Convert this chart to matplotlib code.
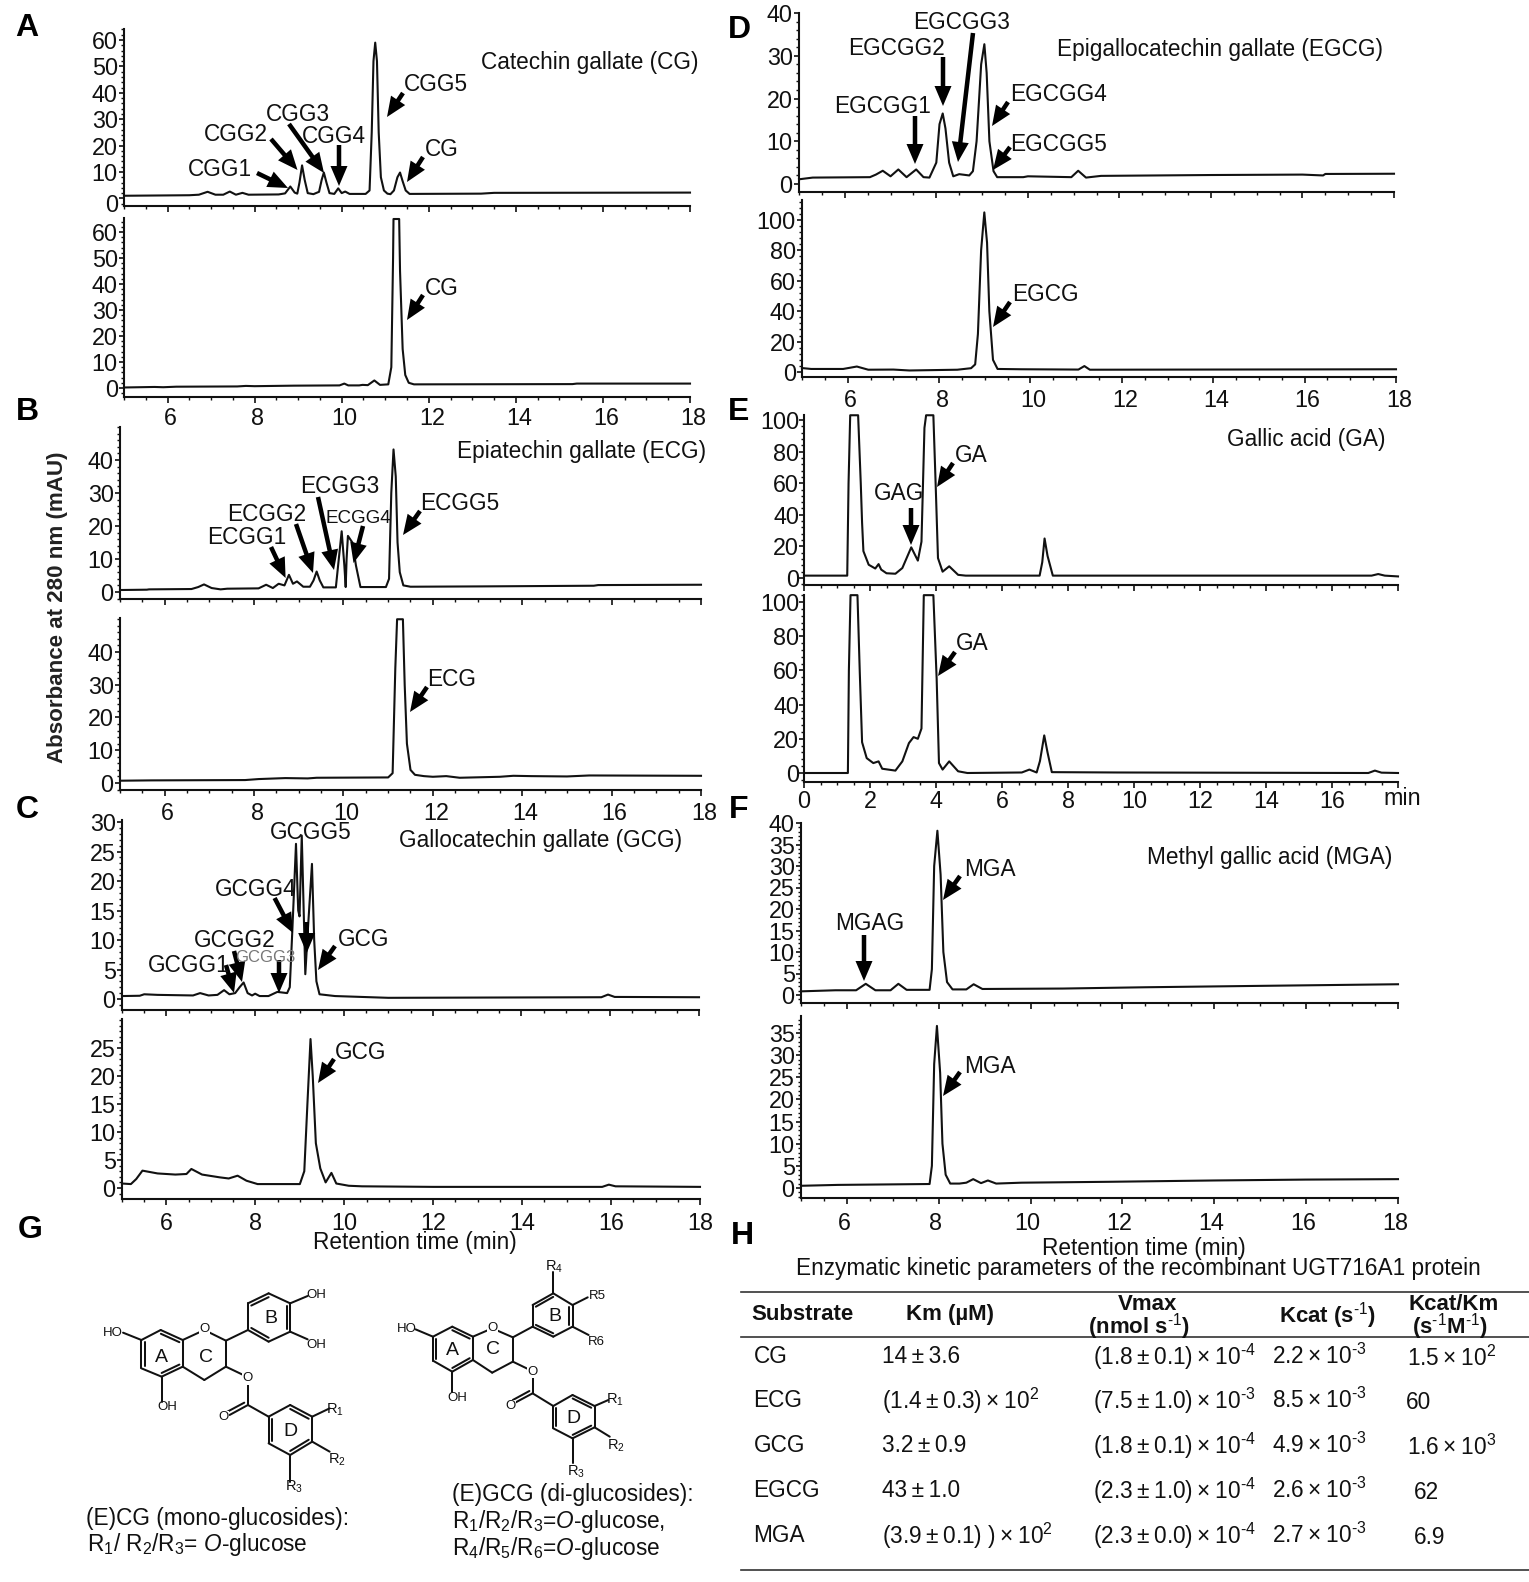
import matplotlib
matplotlib.use("Agg")
import matplotlib.pyplot as plt
from matplotlib.patches import FancyArrow
from matplotlib.ticker import MultipleLocator
from matplotlib.transforms import ScaledTranslation

plt.rcParams['font.family'] = ['Liberation Sans', 'DejaVu Sans']
plt.rcParams['mathtext.fontset'] = 'custom'
plt.rcParams['mathtext.rm'] = 'Liberation Sans'
plt.rcParams['mathtext.it'] = 'Liberation Sans:italic'
plt.rcParams['mathtext.bf'] = 'Liberation Sans:bold'

W, H = 1529, 1582

# ---------- chromatogram data (retention time, absorbance) ----------
A1_t = [5,6.5,6.72,6.92,7.1,7.28,7.43,7.57,7.72,7.86,8.55,8.7,8.82,8.92,8.98,9.03,9.09,9.15,9.22,9.35,9.48,9.54,9.59,9.65,9.72,9.83,9.92,10,10.08,10.18,10.55,10.64,10.69,10.73,10.77,10.81,10.85,10.9,10.97,11.05,11.12,11.2,11.28,11.34,11.4,11.47,11.56,13.2,13.5,18]
A1_y = [1.0,1.2,1.4,2.5,1.4,1.4,2.6,1.4,2.1,1.4,1.5,1.9,4.5,2.2,1.8,6,12.5,7,2,1.6,2.5,7,9.8,6,2,1.7,3.8,2,2.6,1.7,1.7,3,25,52,59,52,25,8,3,1.8,1.6,3,8,9.8,6.5,3,1.7,1.8,2.1,2.2]
A2_t = [5,5.7,5.9,6.2,7.6,7.8,8,8.9,9.95,10.06,10.15,10.4,10.48,10.6,10.75,10.88,11.07,11.14,11.18,11.19,11.32,11.34,11.4,11.46,11.54,11.66,15.3,15.4,18]
A2_y = [0.2,0.4,0.3,0.5,0.6,0.8,0.7,0.9,1.0,1.7,1.0,1.0,1.2,1.1,2.9,1.2,1.4,8,50,65,65,45,15,5,2,1.4,1.5,1.7,1.7]
B1_t = [5,5.6,5.65,6.6,6.75,6.88,7.05,7.25,7.4,8.1,8.27,8.42,8.55,8.68,8.78,8.87,8.96,9.1,9.25,9.33,9.4,9.47,9.55,9.83,9.88,9.96,10.02,10.05,10.07,10.1,10.2,10.28,10.38,10.95,11.02,11.07,11.12,11.17,11.21,11.26,11.34,11.5,13.1,15.6,15.7,18]
B1_y = [0.6,0.7,0.8,0.9,1.5,2.3,1.2,0.8,1,1.1,2.2,1.2,2.5,2,5.2,2.5,3.2,1.6,1.6,3.5,6.2,3.5,1.4,1.4,8,18.4,8,1.5,10,17,15,8,1.5,1.5,4,30,43.2,35,15,6,2,1.6,1.7,1.9,2.1,2.2]
B2_t = [5,5.7,7.8,8.1,8.7,9.2,9.4,11,11.1,11.16,11.2,11.33,11.37,11.42,11.5,11.6,11.8,12.0,12.3,12.6,13.5,13.8,14.2,15,15.5,18]
B2_y = [0.7,0.8,0.9,1.2,1.5,1.4,1.6,1.7,3,35,50,50,30,12,4,2.5,2.1,1.9,2.1,1.6,1.9,2.2,2.1,2,2.3,2.2]
C1_t = [5,5.4,5.5,5.8,6.6,6.76,6.95,7.15,7.3,7.42,7.55,7.65,7.74,7.83,7.93,8.0,8.1,8.3,8.5,8.72,8.78,8.84,8.92,8.97,9.0,9.05,9.09,9.13,9.19,9.28,9.33,9.38,9.45,9.8,11,15.8,15.95,16.1,18]
C1_y = [0.5,0.55,0.8,0.7,0.6,1,0.6,0.7,1.5,0.8,1,2,2.8,1,0.6,0.9,0.5,0.5,1.2,1,2,12,26.3,15,14,27.7,16,4.2,12,22.9,10,3,0.8,0.5,0.2,0.3,0.75,0.35,0.3]
C2_t = [5,5.2,5.32,5.46,5.8,6.2,6.45,6.56,6.8,7.2,7.4,7.6,7.8,8.05,9.0,9.1,9.17,9.24,9.29,9.36,9.46,9.58,9.71,9.82,10.1,10.4,12,15.8,15.95,16.1,18]
C2_y = [0.8,0.7,1.6,3.1,2.6,2.4,2.5,3.4,2.4,1.9,1.7,2.2,1.3,0.7,0.7,3,15,26.6,20,8,3.5,1,2.7,0.8,0.4,0.3,0.2,0.2,0.6,0.3,0.2]
D1_t = [5,5.3,6.55,6.68,6.83,7,7.17,7.35,7.56,7.72,7.85,8.0,8.07,8.14,8.2,8.28,8.37,8.5,8.72,8.8,8.88,8.98,9.05,9.1,9.16,9.25,9.33,9.9,10,10.95,11.1,11.27,11.6,14,16,16.45,16.5,18]
D1_y = [1.1,1.5,1.6,2.2,3.1,1.8,3.4,1.6,3.4,1.6,1.5,5,14,16.5,13,5,1.8,2.3,2,3,10,28,32.7,26,10,3,1.6,1.6,1.8,1.6,3.1,1.5,1.9,2.1,2.2,2,2.35,2.4]
D2_t = [5,5.2,5.9,6.2,6.45,7,7.35,8.4,8.7,8.79,8.85,8.92,8.99,9.05,9.1,9.18,9.28,9.8,11.05,11.18,11.3,16,18]
D2_y = [2.6,2,2,3.6,1.5,1.6,1.0,1.5,2.5,5,25,80,105,85,40,8,2,1.8,1.6,3.9,1.5,1.7,1.8]
E1_t = [0,1.31,1.35,1.4,1.64,1.72,1.76,1.8,1.96,2.16,2.26,2.34,2.5,2.77,2.98,3.25,3.45,3.56,3.65,3.7,3.92,3.99,4.06,4.2,4.4,4.67,4.9,7.14,7.22,7.29,7.38,7.54,13.5,17.2,17.4,17.6,18]
E1_y = [1.5,1.5,60,103,103,60,35,17,8.4,6,8.8,5.3,3,2.7,6.3,19.4,11,23,95,103,103,59,12.6,4,7.4,2,1.5,1.5,10,25,14,1.5,1.5,1.5,2.5,1.5,1]
E2_t = [0,1.33,1.36,1.41,1.62,1.69,1.76,1.9,2.1,2.26,2.37,2.77,2.98,3.18,3.32,3.45,3.56,3.63,3.92,4.02,4.09,4.2,4.4,4.67,4.95,6.6,6.83,7.05,7.15,7.28,7.38,7.51,9.5,17.1,17.3,17.5,18]
E2_y = [0,0,60,104,104,59,18,8.7,5.8,6.8,2.5,1.4,6.8,17.5,21,20,26,104,104,55,5.8,2,6.8,1,0,0.3,2,0.3,7,22,12,0.5,0.3,0,1.4,0.2,0]
F1_t = [5,5.75,6.2,6.41,6.62,6.95,7.12,7.3,7.8,7.85,7.9,7.97,8.04,8.1,8.18,8.3,8.6,8.76,8.95,10.7,12.5,14.8,18]
F1_y = [0.85,1.1,1.1,2.6,1.1,1.1,2.6,1.2,1.2,6,30,38.2,28,10,3,1.3,1.3,2.5,1.4,1.5,1.8,2.1,2.5]
F2_t = [5,5.8,7.8,7.85,7.9,7.96,8.03,8.08,8.15,8.25,8.45,8.6,8.75,8.92,9.07,9.25,9.8,11.7,14,16,18]
F2_y = [0.5,0.7,0.9,5,28,36.6,26,10,3,1,1,1.2,2,1.1,1.7,1,1.2,1.4,1.7,1.9,2.0]

X_TICKS = [6, 8, 10, 12, 14, 16, 18]
X_TICKS_E = [0, 2, 4, 6, 8, 10, 12, 14, 16]

# table contents
PM = '\u2009±\u2009'
TM = '\u2009×\u2009'
SUBSTRATES = ['CG', 'ECG', 'GCG', 'EGCG', 'MGA']
KM = [f'14{PM}3.6', f'(1.4{PM}0.3){TM}10$^{{2}}$', f'3.2{PM}0.9', f'43{PM}1.0', f'(3.9{PM}0.1) ){TM}10$^{{2}}$']
VMAX = [f'(1.8{PM}0.1){TM}10$^{{\\text{{-4}}}}$', f'(7.5{PM}1.0){TM}10$^{{\\text{{-3}}}}$',
        f'(1.8{PM}0.1){TM}10$^{{\\text{{-4}}}}$', f'(2.3{PM}1.0){TM}10$^{{\\text{{-4}}}}$',
        f'(2.3{PM}0.0){TM}10$^{{\\text{{-4}}}}$']
KCAT = [f'{v}{TM}10$^{{\\text{{-3}}}}$' for v in ('2.2', '8.5', '4.9', '2.6', '2.7')]
KCATKM = [f'1.5{TM}10$^{{2}}$', '60', f'1.6{TM}10$^{{3}}$', '62', '6.9']

FS = 16.3
TICK_FS = 16.8
fig = plt.figure(figsize=(W / 100, H / 100), dpi=100, facecolor='white')


def panel(box, xlim, t, y, p1, p2, yticks, xticks=None, labels_x=True, xpad=3.5, xshift=0, ypad=1.0):
    left, right, top, bottom = box
    ax = fig.add_axes([left / W, 1 - bottom / H, (right - left) / W, (bottom - top) / H])
    ax.patch.set_visible(False)
    scale = (p1[1] - p2[1]) / (p2[0] - p1[0])
    ax.set_ylim(p1[0] - (bottom - p1[1]) / scale, p1[0] + (p1[1] - top) / scale)
    ax.set_xlim(*xlim)
    ax.plot(t, y, color='#111111', lw=1.5, clip_on=False, solid_joinstyle='round')
    for s in ('top', 'right'):
        ax.spines[s].set_visible(False)
    for s in ('left', 'bottom'):
        ax.spines[s].set_linewidth(1.5)
        ax.spines[s].set_color('#111111')
    ax.set_yticks(yticks)
    ax.set_xticks(xticks if xticks else X_TICKS)
    ax.xaxis.set_minor_locator(MultipleLocator(0.5))
    ax.yaxis.set_minor_locator(MultipleLocator(yticks[1] / 5))
    ax.tick_params(axis='y', which='major', length=3.5, width=1.2, labelsize=TICK_FS, colors='#111111', pad=ypad)
    ax.tick_params(axis='x', which='major', length=4.5, width=1.2, labelsize=TICK_FS, colors='#111111',
                   pad=xpad * 0.72, labelbottom=labels_x)
    ax.tick_params(axis='both', which='minor', length=2, width=1.0, color='#111111')
    if xshift:
        off = ScaledTranslation(xshift / 100, 0, fig.dpi_scale_trans)
        for lab in ax.get_xticklabels():
            lab.set_transform(lab.get_transform() + off)
    return ax


XL = (5, 18)
# A
a1 = panel((124, 690, 29, 206), XL, A1_t, A1_y, (60, 40), (10, 172), [0, 10, 20, 30, 40, 50, 60], labels_x=False)
zero = a1.get_yticklabels()[0]
zero.set_transform(zero.get_transform() + ScaledTranslation(0, -5 / 100, fig.dpi_scale_trans))
panel((124, 690, 218, 397), XL, A2_t, A2_y, (60, 232), (0, 388), [0, 10, 20, 30, 40, 50, 60], xpad=3.5, xshift=3)
# B
panel((120, 701, 427, 599), XL, B1_t, B1_y, (40, 460), (0, 592), [0, 10, 20, 30, 40], labels_x=False)
panel((120, 701, 618, 790), XL, B2_t, B2_y, (40, 652), (0, 783), [0, 10, 20, 30, 40], xpad=5.5, xshift=3)
# C
panel((122, 699, 820, 1010), XL, C1_t, C1_y, (30, 822), (0, 999), [0, 5, 10, 15, 20, 25, 30], labels_x=False)
panel((122, 700, 1019, 1199), XL, C2_t, C2_y, (25, 1048), (0, 1188), [0, 5, 10, 15, 20, 25], xpad=6.5)
# D
panel((799, 1394, 13, 192), XL, D1_t, D1_y, (40, 13), (0, 184), [0, 10, 20, 30, 40], labels_x=False)
panel((802, 1396, 200, 377), XL, D2_t, D2_y, (100, 220), (0, 372), [0, 20, 40, 60, 80, 100], xpad=5.5, xshift=3)
# E
panel((804, 1398, 415, 585), (0, 18), E1_t, E1_y, (100, 420), (0, 578), [0, 20, 40, 60, 80, 100],
      xticks=X_TICKS_E + [18], labels_x=False, ypad=0)
panel((804, 1398, 595, 782), (0, 18), E2_t, E2_y, (100, 602), (0, 773), [0, 20, 40, 60, 80, 100],
      xticks=X_TICKS_E + [18], xpad=1.5, ypad=0).set_xticklabels([str(v) for v in X_TICKS_E] + [''])
# F
panel((801, 1398, 823, 1003), XL, F1_t, F1_y, (40, 823), (0, 995), [0, 5, 10, 15, 20, 25, 30, 35, 40], labels_x=False)
panel((801, 1398, 1016, 1198), XL, F2_t, F2_y, (35, 1033), (0, 1188), [0, 5, 10, 15, 20, 25, 30, 35], xpad=7.5, xshift=-3)

# ---------- overlay in pixel coordinates ----------
ov = fig.add_axes([0, 0, 1, 1], zorder=10)
ov.set_xlim(0, W)
ov.set_ylim(H, 0)
ov.axis('off')
ov.patch.set_alpha(0)


def T(x, y, s, size=FS, ha='center', **kw):
    ov.text(x, y + 1.5, s, fontsize=size, ha=ha, va='center', color=kw.pop('color', '#111111'), **kw)


def arrow(x0, y0, x1, y1):
    ov.add_patch(FancyArrow(x0, y0, x1 - x0, y1 - y0, width=4.5, head_width=17, head_length=20,
                            length_includes_head=True, color='#000000', lw=0))


# panel letters
for (x, y, s) in [(27, 27, 'A'), (27, 411, 'B'), (27, 808, 'C'), (739, 28, 'D'), (739, 411, 'E'),
                  (739, 808, 'F'), (30, 1228, 'G'), (742, 1235, 'H')]:
    T(x, y, s, size=23, fontweight='bold', color='black')

T(57, 606, 'Absorbance at 280 nm (mAU)', size=16.1, rotation=90, fontweight='bold', color='#222222')

labels = [
    (220, 168, 'CGG1'), (235.5, 133, 'CGG2'), (297.5, 113, 'CGG3'), (334, 135, 'CGG4'), (436, 83, 'CGG5'),
    (442, 148, 'CG'), (442, 287, 'CG'), (590, 61, 'Catechin gallate (CG)'),
    (246.5, 536, 'ECGG1'), (267, 513, 'ECGG2'), (340, 485, 'ECGG3'), (460, 502, 'ECGG5'),
    (452, 678, 'ECG'), (582, 450, 'Epiatechin gallate (ECG)'),
    (189, 964, 'GCGG1'), (235, 939, 'GCGG2'), (256, 888, 'GCGG4'), (311, 831, 'GCGG5'),
    (364, 938, 'GCG'), (361, 1051, 'GCG'), (541, 839, 'Gallocatechin gallate (GCG)'),
    (883, 105, 'EGCGG1'), (896, 47, 'EGCGG2'), (962, 21, 'EGCGG3'), (1058, 93, 'EGCGG4'), (1059, 143, 'EGCGG5'),
    (1045, 293, 'EGCG'), (1220, 48, 'Epigallocatechin gallate (EGCG)'),
    (899, 492, 'GAG'), (971, 454, 'GA'), (972, 642, 'GA'), (1306, 438, 'Gallic acid (GA)'),
    (870, 922, 'MGAG'), (990, 868, 'MGA'), (990, 1065, 'MGA'), (1270, 856, 'Methyl gallic acid (MGA)'),
    (415, 1241, 'Retention time (min)'), (1144, 1247, 'Retention time (min)'),
]
for x, y, s in labels:
    T(x, y, s)
T(1402, 797, 'min', size=TICK_FS)
T(358, 517, 'ECGG4', size=13.5)
T(265, 956, 'GCGG3', size=12, color='#777777')

arrows = [
    (257, 173, 288, 188), (271, 139, 297.5, 170), (289, 124, 324, 173), (339, 145, 339, 186),
    (403, 93, 387, 117), (423, 157, 407, 182), (423, 295, 407, 320),
    (271, 547, 285.6, 578), (296, 524, 313, 573), (318, 497, 334, 570), (363, 526, 353.5, 563),
    (420, 511, 403, 535), (427, 687, 410, 712),
    (226, 965, 234, 993), (234, 951, 242, 982), (279, 960, 279, 993), (274.6, 898, 293, 933),
    (306.7, 922, 306.7, 953), (335, 946, 318, 970), (334, 1059, 318, 1083),
    (915, 116, 915, 164), (943, 57, 943, 106), (973, 33, 958, 162), (1008, 102, 992, 126),
    (1010, 147, 993, 170), (1010, 302, 993, 327),
    (911, 508, 911, 545), (953, 463, 937, 487), (955, 652, 938, 676),
    (864, 935, 864, 981), (960, 876, 943, 900), (960, 1072, 943, 1096),
]
for a in arrows:
    arrow(*a)


# ---------- G: structures (drawn in the reference's crop coordinates) ----------
def gx(x):
    return x / 2.178


def gy(y):
    return 1220 + y / 3


def bond(a, b, lw=1.45):
    ov.plot([gx(a[0]), gx(b[0])], [gy(a[1]), gy(b[1])], color='#111111', lw=lw, solid_capstyle='round')


def ring(pts, doubles=()):
    n = len(pts)
    cx = sum(p[0] for p in pts) / n
    cy = sum(p[1] for p in pts) / n
    for i in range(n):
        a, b = pts[i], pts[(i + 1) % n]
        bond(a, b)
        if i in doubles:
            f = 0.84
            a2 = (cx + (a[0] - cx) * f, cy + (a[1] - cy) * f)
            b2 = (cx + (b[0] - cx) * f, cy + (b[1] - cy) * f)
            bond(a2, b2)


def G(x, y, s, size=9.5):
    ov.text(gx(x), gy(y), s, fontsize=size, ha='center', va='center', color='#111111',
            bbox=dict(fc='white', ec='none', pad=0.3) if s in ('O',) else None)


# left molecule
ring([(350, 330), (398, 360), (398, 440), (352, 470), (308, 445), (308, 360)], doubles=(0, 2, 4))
ring([(398, 360), (445, 330), (492, 362), (492, 440), (445, 480), (398, 440)])
ring([(540, 250), (585, 220), (632, 250), (632, 335), (585, 365), (540, 330)], doubles=(0, 2, 4))
ring([(585, 590), (632, 555), (680, 590), (680, 665), (632, 705), (585, 670)], doubles=(1, 3, 5))
for a, b in [((492, 362), (540, 330)), ((632, 250), (670, 228)), ((632, 335), (670, 358)), ((308, 360), (268, 338)),
             ((352, 470), (352, 545)), ((492, 440), (530, 465)), ((540, 490), (540, 555)), ((540, 555), (585, 590)),
             ((540, 555), (500, 585)), ((532, 548), (494, 576)), ((680, 590), (718, 565)), ((680, 665), (718, 695)),
             ((632, 705), (632, 785))]:
    bond(a, b)
for x, y, s, z in [(690, 225, 'OH', 9.5), (690, 375, 'OH', 9.5), (245, 338, 'HO', 9.5), (365, 560, 'OH', 9.5),
                   (540, 475, 'O', 9.5), (487, 592, 'O', 9.5), (445, 328, 'O', 9.5), (730, 568, 'R$_1$', 10.5),
                   (733, 718, 'R$_2$', 10.5), (640, 800, 'R$_3$', 10.5), (352, 412, 'A', 14), (448, 412, 'C', 14),
                   (590, 295, 'B', 14), (632, 635, 'D', 14)]:
    G(x, y, s, z)

# right molecule
ring([(985, 320), (1030, 350), (1030, 420), (985, 455), (943, 422), (943, 350)], doubles=(0, 2, 4))
ring([(1030, 350), (1072, 325), (1117, 352), (1117, 425), (1072, 458), (1030, 420)])
ring([(1160, 320), (1160, 255), (1205, 220), (1247, 255), (1247, 320), (1205, 350)], doubles=(1, 3, 5))
ring([(1205, 558), (1247, 525), (1295, 558), (1295, 622), (1247, 655), (1205, 625)], doubles=(1, 3, 5))
for a, b in [((1117, 352), (1160, 320)), ((1205, 220), (1205, 155)), ((1247, 255), (1280, 232)),
             ((1247, 320), (1282, 345)), ((943, 350), (905, 328)), ((985, 455), (985, 515)),
             ((1117, 425), (1150, 447)), ((1160, 470), (1160, 520)), ((1160, 520), (1205, 558)),
             ((1160, 520), (1122, 548)), ((1153, 513), (1117, 540)), ((1295, 558), (1325, 540)),
             ((1295, 622), (1328, 650)), ((1247, 655), (1247, 730))]:
    bond(a, b)
for x, y, s, z in [(1207, 140, 'R$_4$', 10.5), (1300, 228, 'R5', 9.5), (1298, 365, 'R6', 9.5), (885, 328, 'HO', 9.5),
                   (995, 535, 'OH', 9.5), (1160, 455, 'O', 9.5), (1112, 558, 'O', 9.5), (1072, 323, 'O', 9.5),
                   (1340, 540, 'R$_1$', 10.5), (1342, 678, 'R$_2$', 10.5), (1255, 755, 'R$_3$', 10.5),
                   (985, 392, 'A', 14), (1073, 390, 'C', 14), (1208, 290, 'B', 14), (1248, 595, 'D', 14)]:
    G(x, y, s, z)

T(86, 1517, '(E)CG (mono-glucosides):', ha='left')
T(87, 1543, r'R$_1$/ R$_2$/R$_3$= $\mathit{O}$-glucose', ha='left')
T(452, 1493, '(E)GCG (di-glucosides):', ha='left')
T(452, 1520, r'R$_1$/R$_2$/R$_3$=$\mathit{O}$-glucose,', ha='left')
T(452, 1547, r'R$_4$/R$_5$/R$_6$=$\mathit{O}$-glucose', ha='left')

# ---------- H: table ----------
T(1138, 1267, 'Enzymatic kinetic parameters of the recombinant UGT716A1 protein')
for y in (1292, 1337, 1570):
    ov.plot([741, 1529], [y, y], color='#333333', lw=1.2)
HS = 16
T(751, 1313, 'Substrate', size=HS, ha='left', fontweight='bold')
T(950, 1313, 'Km (µM)', size=HS, fontweight='bold')
T(1148, 1303, 'Vmax', size=HS, fontweight='bold')
T(1139, 1325, r'(nmol s$^{\text{-1}}$)', size=HS, fontweight='bold')
T(1328, 1314, r'Kcat (s$^{\text{-1}}$)', size=HS, fontweight='bold')
T(1454, 1303, 'Kcat/Km', size=HS, fontweight='bold')
T(1450, 1325, r'(s$^{\text{-1}}$M$^{\text{-1}}$)', size=HS, fontweight='bold')
ROW_Y = [1355, 1399, 1444, 1489, 1534]
KK_X = [1407, 1406, 1407, 1414, 1414]
for i, y in enumerate(ROW_Y):
    T(753.5, y, SUBSTRATES[i], ha='left')
    T(881.5, y, KM[i], ha='left')
    T(1093, y, VMAX[i], ha='left')
    T(1272, y, KCAT[i], ha='left')
    T(KK_X[i], y + 2, KCATKM[i], ha='left')

fig.savefig('out.png', dpi=100, facecolor='white')
